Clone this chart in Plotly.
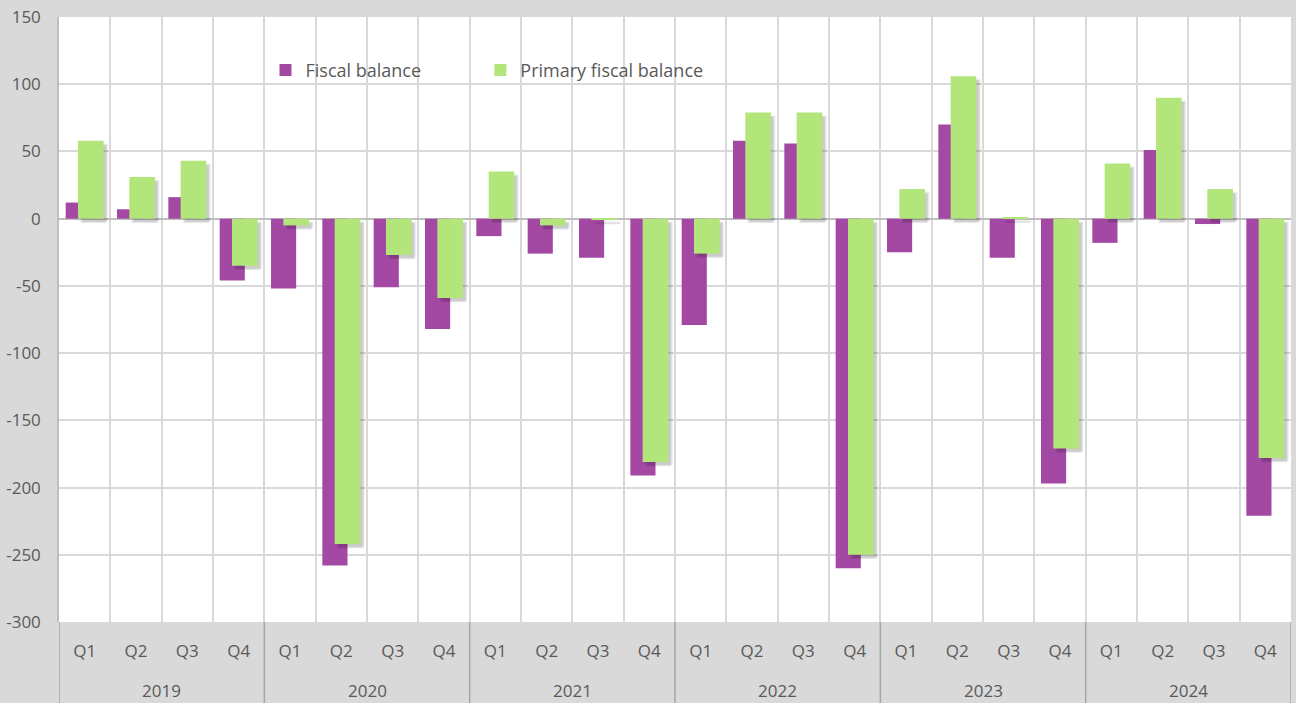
import plotly.graph_objects as go

years = ["2019", "2020", "2021", "2022", "2023", "2024"]
quarters = ["Q1", "Q2", "Q3", "Q4"]

fiscal_balance = [12, 7, 16, -46,
                  -52, -258, -51, -82,
                  -13, -26, -29, -191,
                  -79, 58, 56, -260,
                  -25, 70, -29, -197,
                  -18, 51, -4, -221]
primary_balance = [58, 31, 43, -35,
                   -5, -242, -27, -59,
                   35, -5, -1, -181,
                   -26, 79, 79, -250,
                   22, 106, 1, -171,
                   41, 90, 22, -178]

y_ticks = [150, 100, 50, 0, -50, -100, -150, -200, -250, -300]
y_ticktext = [str(v) for v in y_ticks]  # plain hyphen for negatives

# category keys (unique) and their displayed quarter labels
cats = [f"{y} {q}" for y in years for q in quarters]
q_labels = [q for _ in years for q in quarters]
n = len(cats)
nq = len(quarters)
year_centers = [i * nq + (nq - 1) / 2 for i in range(len(years))]
year_bounds = [i * nq - 0.5 for i in range(len(years) + 1)]

PURPLE = "#a349a4"
GREEN = "#b2e57a"
FONT = "Open Sans"
TXT = "#595959"
PLOT_H = 703 - 17 - 81

fig = go.Figure()
fig.add_trace(go.Bar(x=cats, y=fiscal_balance, name="Fiscal balance",
                     marker=dict(color=PURPLE, line=dict(width=0)),
                     offset=-0.37, width=0.49, legend="legend"))
# soft drop shadow under the primary balance bars
for k, (dx, op) in enumerate([(0.09, 0.05), (0.07, 0.07), (0.05, 0.09)]):
    fig.add_trace(go.Bar(x=cats, y=primary_balance, base=-2.0 - k * 0.6,
                         marker=dict(color=f"rgba(0,0,0,{op})", line=dict(width=0)),
                         offset=-0.13 + dx, width=0.5, showlegend=False, hoverinfo="skip"))
fig.add_trace(go.Bar(x=cats, y=primary_balance, name="Primary fiscal balance",
                     marker=dict(color=GREEN, line=dict(width=0)),
                     offset=-0.13, width=0.5, legend="legend2"))

# year labels and dividers in the category band
for yr, xc in zip(years, year_centers):
    fig.add_annotation(x=xc, xref="x", y=0, yref="paper", yanchor="middle",
                       yshift=-68, text=yr, showarrow=False,
                       font=dict(size=17, color=TXT, family=FONT))
for xb in year_bounds:
    fig.add_shape(type="line", xref="x", yref="paper", x0=xb, x1=xb,
                  y0=0, y1=-81 / PLOT_H, line=dict(color="#a6a6a6", width=1.5))

leg_common = dict(orientation="h", yanchor="middle", xanchor="left", y=0.912,
                  bgcolor="rgba(0,0,0,0)", font=dict(size=18, color=TXT), itemwidth=30)

fig.update_layout(
    width=1296, height=703,
    barmode="overlay",
    paper_bgcolor="#d9d9d9",
    plot_bgcolor="#ffffff",
    margin=dict(l=59, r=5, t=17, b=81, pad=0),
    font=dict(family=FONT, size=17, color=TXT),
    legend=dict(x=0.1676, **leg_common),
    legend2=dict(x=0.342, **leg_common),
    xaxis=dict(type="category", categoryorder="array", categoryarray=cats,
               range=[-0.5, n - 0.5],
               tickmode="array", tickvals=cats, ticktext=q_labels,
               showgrid=True, gridcolor="#d9d9d9", gridwidth=1.5,
               tickson="boundaries", ticks="", ticklabelstandoff=17,
               tickfont=dict(size=17, color=TXT), showline=False),
    yaxis=dict(range=[-300, 150], tickmode="array", tickvals=y_ticks, ticktext=y_ticktext,
               showgrid=True, gridcolor="#d9d9d9",
               gridwidth=1.5, zeroline=True, zerolinecolor="#bfbfbf", zerolinewidth=1.5,
               showline=True, linecolor="#bfbfbf", linewidth=1.5,
               tickfont=dict(size=17, color=TXT), ticklabelstandoff=13),
)

fig.write_html("out.html", config={"displayModeBar": False},
               post_script="document.body.style.margin='0';")
